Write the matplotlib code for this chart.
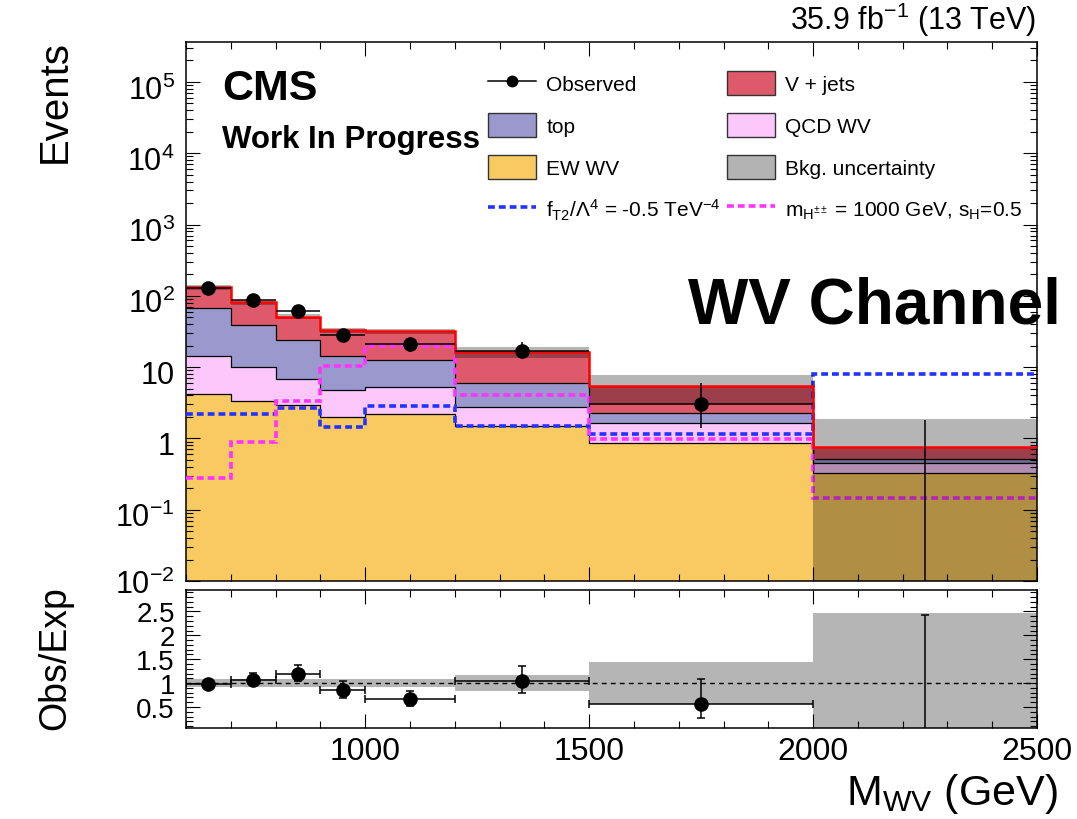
import numpy as np
import matplotlib
matplotlib.use('Agg')
import matplotlib.pyplot as plt
from matplotlib.patches import Patch
from matplotlib.lines import Line2D
from matplotlib.ticker import FixedLocator, FixedFormatter, LogLocator, MultipleLocator, NullFormatter
import matplotlib.transforms as mtransforms

# ---------------- data ----------------
bin_edges = [600, 700, 800, 900, 1000, 1200, 1500, 2000, 2500]
ew_wv = [4.26, 3.37, 2.92, 1.99, 2.17, 1.49, 0.85, 0.324]
qcd_wv = [9.94, 6.63, 3.98, 2.75, 3.13, 1.28, 0.82, 0.123]
top_bkg = [52.8, 28.5, 17.4, 9.66, 7.1, 3.23, 0.57, 0.067]
v_jets = [65.0, 42.5, 26.7, 18.3, 19.3, 10.3, 3.16, 0.243]
bkg_rel_unc = [0.08, 0.08, 0.08, 0.08, 0.08, 0.175, 0.44, 1.46]
signal_ft2 = [2.2, 2.17, 2.63, 1.44, 2.87, 1.49, 1.17, 7.94]
signal_mh = [0.275, 0.88, 3.37, 10.3, 19.8, 4.03, 0.98, 0.148]
observed = [129, 87, 61, 28, 21, 17, 3, 0]
obs_err_up = [12.4, 10.4, 8.9, 6.4, 5.6, 5.2, 2.9, 1.84]
obs_err_dn = [11.4, 9.3, 7.8, 5.3, 4.5, 4.1, 1.6, 0.0]

main_ytick_values = [1e-2, 1e-1, 1, 10, 1e2, 1e3, 1e4, 1e5]
main_ytick_labels = [r'$10^{-2}$', r'$10^{-1}$', '1', '10', r'$10^{2}$', r'$10^{3}$', r'$10^{4}$', r'$10^{5}$']
ratio_ytick_values = [0.5, 1, 1.5, 2, 2.5]
ratio_ytick_labels = ['0.5', '1', '1.5', '2', '2.5']
xtick_values = [1000, 1500, 2000, 2500]
xtick_labels = ['1000', '1500', '2000', '2500']

# ---------------- style ----------------
plt.rcParams['font.family'] = ['Liberation Sans', 'DejaVu Sans']
plt.rcParams['mathtext.fontset'] = 'custom'
plt.rcParams['mathtext.rm'] = 'Liberation Sans'
plt.rcParams['mathtext.it'] = 'Liberation Sans:italic'
plt.rcParams['mathtext.bf'] = 'Liberation Sans:bold'
plt.rcParams['mathtext.default'] = 'regular'

c_ew = '#f9ca62'
c_qcd = '#fcc8fc'
c_top = '#9a98cc'
c_vj = '#de5a6a'
c_blue = '#2233ff'
c_mag = '#ff33ff'

edges = np.array(bin_edges, dtype=float)
centers = 0.5 * (edges[1:] + edges[:-1])
halfw = 0.5 * (edges[1:] - edges[:-1])
ew = np.array(ew_wv)
qcd = np.array(qcd_wv)
tp = np.array(top_bkg)
vj = np.array(v_jets)
lvl1 = ew
lvl2 = lvl1 + qcd
lvl3 = lvl2 + tp
total = lvl3 + vj
rel = np.array(bkg_rel_unc)
obs = np.array(observed, dtype=float)
eup = np.array(obs_err_up)
edn = np.array(obs_err_dn)

fig = plt.figure(figsize=(10.77, 8.2), dpi=100)
ax = fig.add_axes([0.1727, 0.2902, 0.7902, 0.6574])
ax2 = fig.add_axes([0.1727, 0.1110, 0.7902, 0.1677])

ax.set_yscale('log')
floor = 1e-4
# stack fills
ax.stairs(lvl1, edges, baseline=floor, fill=True, color=c_ew, lw=0, zorder=1)
ax.stairs(lvl2, edges, baseline=lvl1, fill=True, color=c_qcd, lw=0, zorder=1)
ax.stairs(lvl3, edges, baseline=lvl2, fill=True, color=c_top, lw=0, zorder=1)
ax.stairs(total, edges, baseline=lvl3, fill=True, color=c_vj, lw=0, zorder=1)
for lv in (lvl1, lvl2, lvl3):
    ax.stairs(lv, edges, baseline=None, color='black', lw=0.9, zorder=2)
# signals
ax.stairs(signal_ft2, edges, baseline=None, color=c_blue, lw=2.6, ls=(0, (1.9, 1.1)), zorder=3)
ax.stairs(signal_mh, edges, baseline=None, color=c_mag, lw=2.6, ls=(0, (1.9, 1.1)), zorder=3)
# uncertainty band
band_hi = total * (1 + rel)
band_lo = np.maximum(total * (1 - rel), floor)
ax.stairs(band_hi, edges, baseline=band_lo, fill=True, color='black', alpha=0.29, lw=0, zorder=4)
# total line
ax.stairs(total, edges, baseline=None, color='#ff0000', lw=1.8, zorder=5)
# observed
nz = obs > 0
ax.errorbar(centers[nz], obs[nz], xerr=halfw[nz], yerr=[edn[nz], eup[nz]], fmt='o', color='black',
            ms=9.5, elinewidth=1.1, capsize=0, zorder=6)
for c, o, u in zip(centers[~nz], obs[~nz], eup[~nz]):
    ax.vlines(c, floor, o + u, color='black', lw=1.1, zorder=6)

ax.set_xlim(600, 2500)
ax.set_ylim(1e-2, 10 ** 5.56)
ax.yaxis.set_major_locator(FixedLocator(main_ytick_values))
ax.yaxis.set_major_formatter(FixedFormatter(main_ytick_labels))
ax.yaxis.set_minor_locator(LogLocator(base=10, subs=np.arange(2, 10), numticks=50))
ax.yaxis.set_minor_formatter(NullFormatter())
ax.xaxis.set_major_locator(FixedLocator(xtick_values))
ax.xaxis.set_minor_locator(MultipleLocator(100))
ax.tick_params(axis='x', labelbottom=False)

for a in (ax, ax2):
    a.tick_params(which='both', direction='in', top=True, right=True, width=0.8)
    a.tick_params(which='major', length=10)
    a.tick_params(which='minor', length=5)
    a.tick_params(axis='y', pad=8)
    for s in a.spines.values():
        s.set_linewidth(1.1)
ax.tick_params(axis='y', labelsize=22)
ax2.tick_params(axis='y', labelsize=20)
ax2.tick_params(axis='x', labelsize=23, pad=6)

offset = mtransforms.ScaledTranslation(0, -0.045, fig.dpi_scale_trans)
for lab in ax.get_yticklabels()[1:]:
    lab.set_transform(lab.get_transform() + offset)

# ---------------- ratio ----------------
ratio = obs / total
r_up = eup / total
r_dn = edn / total
ax2.stairs(1 + rel, edges, baseline=1 - rel, fill=True, color='black', alpha=0.29, lw=0, zorder=1)
ax2.axhline(1, color='black', ls=(0, (3.5, 3)), lw=1, zorder=2)
ax2.errorbar(centers[nz], ratio[nz], xerr=halfw[nz], yerr=[r_dn[nz], r_up[nz]], fmt='o', color='black',
             ms=9.5, elinewidth=1.1, capsize=3, capthick=1.1, zorder=3)
ax2.errorbar(centers[~nz], ratio[~nz], yerr=[r_dn[~nz], r_up[~nz]], fmt='none', ecolor='black',
             elinewidth=1.1, capsize=3, capthick=1.1, zorder=3)
ax2.set_xlim(600, 2500)
ax2.set_ylim(0.06, 2.94)
ax2.yaxis.set_major_locator(FixedLocator(ratio_ytick_values))
ax2.yaxis.set_major_formatter(FixedFormatter(ratio_ytick_labels))
ax2.yaxis.set_minor_locator(MultipleLocator(0.1))
ax2.xaxis.set_major_locator(FixedLocator(xtick_values))
ax2.xaxis.set_major_formatter(FixedFormatter(xtick_labels))
ax2.xaxis.set_minor_locator(MultipleLocator(100))

# ---------------- legends ----------------
obs_h = Line2D([], [], color='black', marker='o', ms=7.5, lw=1.1)
top_h = Patch(facecolor=c_top, edgecolor='#333333', lw=1)
ew_h = Patch(facecolor=c_ew, edgecolor='#333333', lw=1)
ft2_h = Line2D([], [], color=c_blue, lw=2.6, ls=(0, (1.9, 1.1)))
vj_h = Patch(facecolor=c_vj, edgecolor='#333333', lw=1)
qcd_h = Patch(facecolor=c_qcd, edgecolor='#333333', lw=1)
unc_h = Patch(facecolor='#b3b3b3', edgecolor='#333333', lw=1)
mh_h = Line2D([], [], color=c_mag, lw=2.6, ls=(0, (1.9, 1.1)))

leg_kw = dict(loc='upper left', frameon=False, fontsize=15, handlelength=2.3, handleheight=1.4,
              labelspacing=0.85, handletextpad=0.5, borderpad=0, borderaxespad=0)
leg1 = ax.legend([obs_h, top_h, ew_h, ft2_h],
                 ['Observed', 'top', 'EW WV', r'$\mathrm{f_{T2}/\Lambda^{4}}$ = -0.5 TeV$^{-4}$'],
                 bbox_to_anchor=(0.355, 0.946), **leg_kw)
ax.add_artist(leg1)
ax.legend([vj_h, qcd_h, unc_h, mh_h],
          ['V + jets', 'QCD WV', 'Bkg. uncertainty', r'$\mathrm{m_{H^{\pm\pm}}}$ = 1000 GeV, s$_{\mathrm{H}}$=0.5'],
          bbox_to_anchor=(0.6357, 0.946), **leg_kw)

# ---------------- texts ----------------
fig.text(0.962, 0.9634, r'35.9 fb$^{-1}$ (13 TeV)', ha='right', va='baseline', fontsize=22)
fig.text(0.2061, 0.878, 'CMS', ha='left', va='baseline', fontsize=31, fontweight='bold')
fig.text(0.2061, 0.8195, 'Work In Progress', ha='left', va='baseline', fontsize=22.5, fontweight='bold')
fig.text(0.6388, 0.606, 'WV Channel', ha='left', va='baseline', fontsize=46, fontweight='bold')
fig.text(0.051, 0.951, 'Events', rotation=90, ha='center', va='top', fontsize=29)
fig.text(0.051, 0.1976, 'Obs/Exp', rotation=90, ha='center', va='center', fontsize=27)
fig.text(0.982, 0.018, r'M$_{\mathrm{WV}}$ (GeV)', ha='right', va='baseline', fontsize=31)

fig.savefig('out.png', dpi=100)
